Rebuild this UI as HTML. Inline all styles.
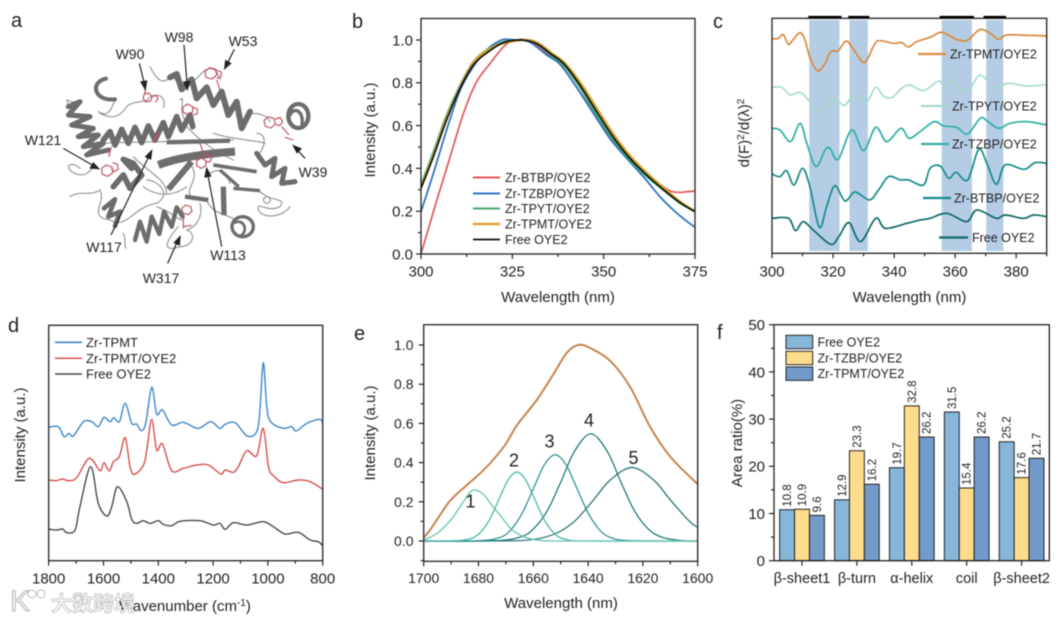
<!DOCTYPE html>
<html lang="en">
<head>
<meta charset="utf-8">
<title>Protein structure and spectroscopy figure</title>
<style>
html,body{margin:0;padding:0;background:#fff;width:1063px;height:621px;overflow:hidden}
svg{display:block;filter:blur(.4px)}
text{font-family:"Liberation Sans","Noto Sans CJK SC",sans-serif;fill:#222}
</style>
</head>
<body>
<svg id="fig" xmlns="http://www.w3.org/2000/svg" width="1063" height="621" viewBox="0 0 1063 621">
<rect width="1063" height="621" fill="#fff"/>
<g id="panel-a">
  <text x="11" y="27" font-size="20">a</text>
  <svg x="0" y="0" width="350" height="310" viewBox="0 0 1050 930">
    <g fill="none" stroke="#969696" stroke-width="3.5" stroke-linecap="round" stroke-linejoin="round">
      <path d="M345 300C330 340 320 350 295 335M300 340C340 360 360 350 380 320C400 300 440 310 445 295C480 270 500 300 490 322M450 200C470 240 490 260 515 225M515 225C540 260 560 270 600 225C625 195 650 200 660 240"/>
      <path d="M750 340C780 340 800 345 810 365M770 400C800 400 800 440 770 470M640 400C700 420 770 420 795 430M560 380C600 420 620 440 700 480M540 300C560 280 530 330 560 370"/>
      <path d="M240 505C210 480 195 500 215 515C240 530 260 530 280 500M210 590C240 570 270 590 300 570C320 610 260 650 330 660C380 690 400 620 470 610C520 580 470 540 440 540"/>
      <path d="M780 575C820 610 860 590 840 620C800 640 770 600 775 630C790 660 850 650 870 620M800 590a10 10 0 1 0 1 0M620 600C640 650 690 640 710 665M535 680C500 720 480 760 540 740C580 740 590 700 560 690M370 700C380 720 370 730 378 745M600 610C610 650 590 680 560 690"/>
      <path d="M630 520C660 500 680 520 690 550M470 620C520 640 520 650 545 660M560 480C620 540 540 560 580 600M400 470C450 520 500 540 500 580M300 430C400 425 560 425 700 420"/>
      <path d="M200 300l30 10-20 15zM430 560C470 590 520 590 560 560"/>
    </g>
    <g fill="none" stroke="#6c6c6c" stroke-width="15" stroke-linejoin="round" stroke-linecap="round">
      <path d="M318 236C270 245 280 305 345 298" stroke-width="12"/>
      <polyline points="205,320 240,305 205,345 270,350 215,375 280,385 235,410 295,405 250,440 310,430 260,465 325,450"/>
      <polyline points="310,420 330,395 345,435 365,388 385,430 405,382 425,428 445,378 465,420 490,368 505,410 530,350 545,390 570,345 578,380" stroke-width="17"/>
      <polyline points="510,232 530,222 545,268 575,238 590,295 620,262 640,315 665,275 685,345 710,305 725,385 750,335" stroke-width="18"/>
      <ellipse cx="895" cy="348" rx="30" ry="36" stroke-width="13"/>
      <path d="M870 345C880 320 915 330 905 380" stroke-width="10"/>
      <polyline points="770,460 795,495 825,475 815,530 855,505 845,550 885,545"/>
      <polyline points="340,560 370,525 390,565 425,525 400,490 370,478 395,505" stroke-width="17"/>
      <polyline points="312,625 345,598 325,650 360,635 345,678" stroke-width="14"/>
      <polyline points="405,720 420,665 440,725 455,650 478,702 492,635 515,680 530,622 548,650" stroke-width="13"/>
      <ellipse cx="728" cy="680" rx="32" ry="30" stroke-width="10"/>
      <path d="M705 668C730 655 745 690 725 705" stroke-width="8"/>
    </g>
    <g fill="none" stroke="#6e6e6e" stroke-width="13" stroke-linecap="butt">
      <path d="M500 427L690 422"/>
      <path d="M475 495C540 470 630 460 705 455" stroke-width="24"/>
      <path d="M505 568L575 485" stroke-width="18"/>
      <path d="M640 495L770 515" stroke-width="11"/>
      <path d="M660 510L716 560" stroke-width="10"/>
      <path d="M670 560L672 645" stroke-width="16"/>
      <path d="M555 590L625 600" stroke-width="13"/>
      <path d="M700 565L780 572" stroke-width="10"/>
    </g>
    <g fill="none" stroke="#c14f5c" stroke-width="3.5" stroke-linejoin="round">
      <path d="M615 215l14-12 18 5 3 17-14 12-18-5zM650 210l14 6-1 15-14 4M650 240l10 30"/>
      <path d="M433 282l13-3 10 10-4 14-14 3-9-10zM456 290l12-4 6 10-7 11M436 268l-2 12"/>
      <path d="M548 322l14-10 16 8 0 16-15 8-14-8zM578 322l14 5 0 14-12 4"/>
      <path d="M792 362l12-12 18 5 4 17-13 12-17-5zM826 358l14-6 8 13-9 12-12-3M845 380l22 25M880 420l-25-8"/>
      <path d="M305 505l14-10 17 6 2 17-14 11-17-6zM338 488l14 4 3 15-12 8-9-10M326 470l8-30"/>
      <path d="M590 482l14-8 14 8-1 15-14 8-13-8zM610 470l14-8 12 9-6 14-14 1M600 430l10 30"/>
      <path d="M545 625l12-10 15 5 4 14-12 10-15-5zM550 650l0 35M550 680l25-4"/>
      <path d="M460 428L480 395" stroke-width="5"/>
    </g>
    <g stroke="#222" stroke-width="3.6" fill="#222">
      <line x1="418" y1="190" x2="433" y2="250"/><path d="M436 268l-13-22 17-3z"/>
      <line x1="552" y1="135" x2="561" y2="250"/><path d="M562 268l-11-22 18-1z"/>
      <line x1="703" y1="148" x2="682" y2="190"/><path d="M674 206l3-24 15 8z"/>
      <line x1="915" y1="475" x2="892" y2="450"/><path d="M880 437l23 9-12 12z"/>
      <line x1="190" y1="445" x2="280" y2="497"/><path d="M296 506l-25-2 9-15z"/>
      <line x1="333" y1="705" x2="447" y2="468"/><path d="M455 452l-3 25-15-7z"/>
      <line x1="665" y1="740" x2="623" y2="522"/><path d="M620 505l12 23-17 3z"/>
      <line x1="503" y1="790" x2="532" y2="725"/><path d="M540 710l-2 25-15-7z"/>
    </g>
  </svg>
  <g font-size="14" text-anchor="middle">
    <text x="179" y="42">W98</text>
    <text x="243" y="46">W53</text>
    <text x="130" y="59">W90</text>
    <text x="43" y="145">W121</text>
    <text x="313" y="177">W39</text>
    <text x="104" y="252">W117</text>
    <text x="228" y="260">W113</text>
    <text x="161" y="283">W317</text>
  </g>
</g>
<g id="charts"></g>
<g id="watermark">
  <text x="10" y="611" font-size="30" style="fill:#f4f4f4;stroke:#aaa;stroke-width:.8">K</text>
  <circle cx="32" cy="594" r="4" fill="#fff" stroke="#bbb"/>
  <circle cx="41" cy="594" r="4" fill="#fff" stroke="#bbb"/>
  <text x="51" y="611" font-size="21" font-weight="700" style="fill:#f4f4f4;stroke:#aaa;stroke-width:.5">大数跨境</text>
</g>
</svg>
<script>
/* Panel b: normalised fluorescence */
const bXTicks = [300, 325, 350, 375];
const bXMinor = [312.5, 337.5, 362.5];
const bYTicks = [0, 0.2, 0.4, 0.6, 0.8, 1.0];
const bYMinor = [0.1, 0.3, 0.5, 0.7, 0.9];
const bBtbpX = [300,304.3,308,311.6,315.2,318.9,323,326.2,329.8,334.4,338,342.6,347.2,351.7,356.3,360.9,364.5,368.2,370.9,372.7,375];
const bBtbpY = [0,0.25,0.455,0.656,0.804,0.89,0.975,1,0.995,0.936,0.89,0.78,0.664,0.547,0.462,0.392,0.337,0.295,0.288,0.291,0.294];
const bTzbpX = [300,303.4,307,310.7,314.3,317.9,322.1,326.2,329.8,334.4,338,342.6,347.2,351.7,356.3,360.9,365.4,369.1,372.3,375];
const bTzbpY = [0.198,0.377,0.579,0.765,0.875,0.952,1,0.999,0.99,0.93,0.887,0.778,0.657,0.54,0.447,0.361,0.268,0.205,0.159,0.125];
const bTpytX = [300,303.4,307,310.7,314.3,317.9,322.5,328,331.6,335.3,339,343.5,348.1,352.7,357.2,361.8,366.3,370.9,375];
const bTpytY = [0.322,0.478,0.649,0.789,0.898,0.952,0.991,1,0.983,0.933,0.882,0.778,0.649,0.532,0.439,0.361,0.299,0.237,0.198];
const bTpmtX = [300,303.4,307,310.7,314.3,317.9,322.5,328.9,332.2,335.7,339.4,344,348.6,353.1,357.6,362.2,366.7,371.1,375];
const bTpmtY = [0.31,0.46,0.635,0.78,0.895,0.948,0.985,1,0.985,0.94,0.892,0.792,0.668,0.55,0.452,0.373,0.306,0.243,0.2];
const bFreeX = [300,303.4,307,310.7,314.3,317.9,322.5,327.6,331.6,335.3,339,343.5,348.1,352.7,357.2,361.8,366.3,370.9,375];
const bFreeY = [0.307,0.455,0.626,0.774,0.883,0.938,0.987,1,0.983,0.938,0.891,0.79,0.665,0.545,0.447,0.369,0.302,0.24,0.198];

/* Panel c: second-derivative spectra (offset, arbitrary units) */
const cXTicks = [300, 320, 340, 360, 380];
const cXMinor = [310, 330, 350, 370, 390];
const cBandStart = [312.2, 325.4, 355.6, 370.2];
const cBandEnd = [322.1, 331.4, 365.5, 375.8];
const cMarkStart = [311.9, 325, 354.9, 369.3];
const cMarkEnd = [322.8, 331.9, 366.2, 376.7];
const cTpmtX = [300,302.1,303.7,305.4,307,309.2,310.8,312.5,315,317.4,319.2,321.7,324.3,326.7,330.2,333.2,334.9,339.8,342.5,344.7,347.4,351.8,355.1,357.3,360.5,363.8,367.1,368.7,371.5,374.2,376.9,383.5,390];
const cTpmtV = [643,645,656,627,642,662,640,585,548,570,605,608,637,612,572,620,638,630,632,619,635,648,663,657,642,638,665,672,660,642,655,654,652];
const cTpytX = [300,303.2,305.9,309.2,311.9,314.9,317.4,319.2,321.7,323.9,326.7,331,334,336.5,339.3,342.5,345.2,349.6,354.6,356.2,358.4,361.1,364.1,367.7,370.4,373.5,377,383.5,390];
const cTpytV = [498,498,475,483,460,423,445,463,455,444,472,455,498,472,467,495,505,488,517,503,515,498,485,533,520,493,510,502,506];
const cTzbpX = [300,302.6,306.1,309.2,311.4,314.4,317.4,319,321.7,326.1,330,334,337.6,342.2,344.9,348.5,353.1,356.2,360.5,364.1,368.2,370.4,374.2,378,383.5,390];
const cTzbpV = [375,370,335,390,330,260,310,315,282,370,308,378,335,375,345,365,395,382,378,358,405,398,375,390,395,385];
const cBtbpX = [300,302.6,304.8,307.2,310,312.4,315.5,317.9,320.6,323.9,327.2,331.9,334.9,338.2,342,344.7,349.6,351.8,355.1,357.9,360.3,364.1,367.7,370.4,373.5,376.4,382.6,386.2,390];
const cBtbpV = [238,230,248,205,255,200,78,140,203,157,184,160,190,230,220,220,205,255,262,225,243,220,312,270,207,265,252,272,270];
const cFreeX = [300,305.4,307.7,310.2,313.5,319.2,321.9,325.2,329,334,337.1,344.2,348.6,351.8,357.3,363.8,367.1,373.5,376.4,382.4,385.7,390];
const cFreeV = [105,105,68,95,70,27,50,92,35,105,75,90,100,105,120,95,130,105,115,105,115,110];

/* Panel d: Raman-like spectra (offset, arbitrary units) */
const dXTicks = [1800, 1600, 1400, 1200, 1000, 800];
const dXMinor = [1700, 1500, 1300, 1100, 900];
const dTpmtX = [1800,1765,1744,1726,1710,1673,1643,1619,1598,1576,1562,1542,1521,1497,1479,1463,1446,1424,1406,1385,1351,1309,1254,1209,1175,1156,1120,1075,1041,1029,1017,1004,990,944,913,897,858,812,800];
const dTpmtV = [400,402,372,382,374,417,417,402,430,417,429,417,472,412,410,390,412,520,440,452,407,415,397,417,397,409,414,374,387,452,594,462,417,397,402,389,412,424,414];
const dHybridX = [1800,1771,1749,1728,1698,1652,1613,1598,1579,1564,1542,1521,1503,1487,1454,1442,1424,1406,1385,1351,1309,1260,1217,1172,1156,1126,1108,1077,1041,1017,998,980,944,889,846,800];
const dHybridV = [242,240,245,240,249,307,270,294,269,297,312,369,282,259,287,332,424,332,350,270,277,287,287,260,272,265,282,330,315,397,282,255,234,242,237,214];
const dFreeX = [1800,1771,1749,1734,1704,1686,1647,1619,1588,1570,1549,1515,1497,1479,1455,1430,1400,1382,1351,1321,1248,1199,1175,1156,1126,1077,1017,980,938,889,846,816,800];
const dFreeV = [95,92,95,84,92,162,282,172,134,162,222,177,124,112,120,112,120,109,105,118,120,107,112,94,114,107,117,102,80,85,62,57,45];

/* Panel e: peak fitting */
const eXTicks = [1700, 1680, 1660, 1640, 1620, 1600];
const eXMinor = [1690, 1670, 1650, 1630, 1610];
const eYTicks = [0, 0.2, 0.4, 0.6, 0.8, 1.0];
const eYMinor = [-0.1, 0.1, 0.3, 0.5, 0.7, 0.9];
const eTotalX = [1700,1697.7,1694,1690.4,1685.5,1680.6,1675.8,1670.3,1666,1658.7,1652.7,1647.8,1643.6,1639.3,1632,1624.7,1617.4,1610,1600];
const eTotalY = [0.017,0.056,0.133,0.205,0.27,0.33,0.396,0.49,0.59,0.72,0.85,0.96,1,0.985,0.92,0.787,0.583,0.43,0.29];
const ePeak1X = [1700,1695,1690,1686,1683,1681,1678,1675,1672,1668,1664,1660,1655,1645,1600];
const ePeak1Y = [0.005,0.04,0.11,0.19,0.25,0.26,0.235,0.18,0.13,0.06,0.025,0.008,0.001,0,0];
const ePeak2X = [1700,1690,1684,1680,1676,1672,1669,1666,1663,1660,1656,1652,1648,1640,1600];
const ePeak2Y = [0,0,0.008,0.034,0.108,0.23,0.316,0.352,0.316,0.23,0.108,0.034,0.008,0,0];
const ePeak3X = [1700,1680,1672,1668,1664,1660,1656,1652,1648,1644,1640,1636,1632,1625,1600];
const ePeak3Y = [0,0.001,0.019,0.06,0.143,0.266,0.388,0.44,0.388,0.266,0.143,0.06,0.019,0.002,0];
const ePeak4X = [1700,1675,1665,1660,1655,1650,1645,1639,1633,1628,1623,1618,1613,1605,1600];
const ePeak4Y = [0,0.001,0.019,0.061,0.152,0.3,0.457,0.547,0.457,0.3,0.152,0.061,0.019,0.001,0];
const ePeak5X = [1700,1670,1660,1652,1645,1638,1632,1624,1616,1610,1603,1600];
const ePeak5Y = [0,0.001,0.008,0.037,0.1,0.21,0.31,0.375,0.31,0.21,0.1,0.07];

/* Panel f: secondary structure */
const fCategories = ["β-sheet1", "β-turn", "α-helix", "coil", "β-sheet2"];
const fFree = [10.8, 12.9, 19.7, 31.5, 25.2];
const fTzbp = [10.9, 23.3, 32.8, 15.4, 17.6];
const fTpmt = [9.6, 16.2, 26.2, 26.2, 21.7];
const fYTicks = [0, 10, 20, 30, 40, 50];
const fYMinor = [5, 15, 25, 35, 45];

const NS = "http://www.w3.org/2000/svg";
const root = document.getElementById("charts");

function make(tag, parent, props) {
  const node = document.createElementNS(NS, tag);
  for (const k in props) node.setAttribute(k, props[k]);
  parent.appendChild(node);
  return node;
}
function scale(d0, d1, r0, r1) {
  return function (v) { return r0 + (v - d0) * (r1 - r0) / (d1 - d0); };
}
function smoothPath(xs, ys, sx, sy) {
  const p = xs.map(function (x, i) { return [sx(x), sy(ys[i])]; });
  let d = "M" + p[0][0].toFixed(2) + " " + p[0][1].toFixed(2);
  for (let i = 0; i < p.length - 1; i++) {
    const a = p[Math.max(i - 1, 0)], b = p[i], c = p[i + 1], e = p[Math.min(i + 2, p.length - 1)];
    const c1x = b[0] + (c[0] - a[0]) / 6, c1y = b[1] + (c[1] - a[1]) / 6;
    const c2x = c[0] - (e[0] - b[0]) / 6, c2y = c[1] - (e[1] - b[1]) / 6;
    d += "C" + c1x.toFixed(2) + " " + c1y.toFixed(2) + " " + c2x.toFixed(2) + " " + c2y.toFixed(2) + " " + c[0].toFixed(2) + " " + c[1].toFixed(2);
  }
  return d;
}
function series(parent, name, xs, ys, sx, sy, color, width) {
  const path = make("path", parent, { d: smoothPath(xs, ys, sx, sy), fill: "none", stroke: color, "stroke-width": width, "stroke-linejoin": "round" });
  
  
  return path;
}
function label(parent, name, str, x, y, size, anchor, rotate) {
  const t = make("text", parent, { x: x, y: y, "font-size": size, "text-anchor": anchor || "start" });
  if (rotate) t.setAttribute("transform", "rotate(-90 " + x + " " + y + ")");
  t.textContent = str;
  
  
  return t;
}
function tick(parent, name, x1, y1, x2, y2) {
  const l = make("line", parent, { x1: x1, y1: y1, x2: x2, y2: y2, stroke: "#222", "stroke-width": 1.2 });
  
  
}
function frame(parent, name, L, T, R, B) {
  const r = make("rect", parent, { x: L, y: T, width: R - L, height: B - T, fill: "none", stroke: "#222", "stroke-width": 1.3 });
  
  
}
function xAxis(parent, name, majors, minors, sx, B, fontSize, labelY, fmt) {
  majors.forEach(function (v) {
    tick(parent, name + "-x-tick", sx(v), B, sx(v), B + 5);
    label(parent, name + "-x-tick-label", fmt ? fmt(v) : String(v), sx(v), labelY, fontSize, "middle");
  });
  minors.forEach(function (v) { tick(parent, name + "-x-minor-tick", sx(v), B, sx(v), B + 3); });
}
function yAxis(parent, name, majors, minors, sy, L, fontSize, labelX, fmt) {
  majors.forEach(function (v) {
    tick(parent, name + "-y-tick", L, sy(v), L - 5, sy(v));
    label(parent, name + "-y-tick-label", fmt ? fmt(v) : String(v), labelX, sy(v) + fontSize * 0.36, fontSize, "end");
  });
  minors.forEach(function (v) { tick(parent, name + "-y-minor-tick", L, sy(v), L - 3, sy(v)); });
}
function legendLine(parent, name, x1, x2, y, color, width, str, textX, size) {
  const g = make("g", parent, {});
  
  
  const l = make("line", g, { x1: x1, x2: x2, y1: y, y2: y, stroke: color, "stroke-width": width });
  
  
  label(g, name + "-label", str, textX, y + size * 0.36, size, "start");
}
function panel(name) {
  const g = make("g", root, {});
  
  
  return g;
}
const f1 = function (v) { return v.toFixed(1); };

/* ---- b ---- */
(function () {
  const g = panel("emission-panel");
  const sx = scale(300, 375, 421, 695), sy = scale(0, 1, 254, 40);
  label(g, "panel-label-b", "b", 352, 28, 20);
  series(g, "line-zr-btbp", bBtbpX, bBtbpY, sx, sy, "#e2585a", 1.7);
  series(g, "line-zr-tzbp", bTzbpX, bTzbpY, sx, sy, "#2f77c4", 1.8);
  series(g, "line-zr-tpyt", bTpytX, bTpytY, sx, sy, "#3fa86b", 1.8);
  series(g, "line-zr-tpmt", bTpmtX, bTpmtY, sx, sy, "#dba32f", 2.2);
  series(g, "line-free-oye2", bFreeX, bFreeY, sx, sy, "#0a0a0a", 1.6);
  frame(g, "emission", 421, 18.5, 695, 254);
  xAxis(g, "emission", bXTicks, bXMinor, sx, 254, 15, 276.5);
  yAxis(g, "emission", bYTicks, bYMinor, sy, 421, 15, 413, f1);
  label(g, "emission-x-title", "Wavelength (nm)", 558, 302, 15, "middle");
  label(g, "emission-y-title", "Intensity (a.u.)", 375, 130, 15, "middle", true);
  legendLine(g, "legend-entry-btbp", 473, 500, 177.5, "#e2585a", 2, "Zr-BTBP/OYE2", 505, 12.5);
  legendLine(g, "legend-entry-tzbp", 473, 500, 193.5, "#2f77c4", 2, "Zr-TZBP/OYE2", 505, 12.5);
  legendLine(g, "legend-entry-tpyt", 473, 500, 208.5, "#3fa86b", 2, "Zr-TPYT/OYE2", 505, 12.5);
  legendLine(g, "legend-entry-tpmt", 473, 500, 224, "#dba32f", 2.4, "Zr-TPMT/OYE2", 505, 12.5);
  legendLine(g, "legend-entry-free", 473, 500, 239.5, "#111", 1.7, "Free OYE2", 505, 12.5);
})();

/* ---- c ---- */
(function () {
  const g = panel("derivative-panel");
  const sx = scale(300, 390, 772, 1046.7), sy = scale(0, 705, 253.3, 18.3);
  label(g, "panel-label-c", "c", 713, 28, 20);
  cBandStart.forEach(function (s, i) {
    const r = make("rect", g, { x: sx(s), y: 20, width: sx(cBandEnd[i]) - sx(s), height: 231, fill: "#b5cde4" });
    
    
  });
  series(g, "line-zr-tpmt", cTpmtX, cTpmtV, sx, sy, "#d98a3c", 1.7);
  series(g, "line-zr-tpyt", cTpytX, cTpytV, sx, sy, "#a3dbc9", 1.6);
  series(g, "line-zr-tzbp", cTzbpX, cTzbpV, sx, sy, "#2fb0a4", 1.7);
  series(g, "line-zr-btbp", cBtbpX, cBtbpV, sx, sy, "#168c8a", 1.7);
  series(g, "line-free-oye2", cFreeX, cFreeV, sx, sy, "#0e6a69", 1.7);
  frame(g, "derivative", 772, 18.3, 1046.7, 253.3);
  cMarkStart.forEach(function (s, i) {
    const l = make("line", g, { x1: sx(s), x2: sx(cMarkEnd[i]), y1: 17, y2: 17, stroke: "#000", "stroke-width": 2.2 });
    
    
  });
  xAxis(g, "derivative", cXTicks, cXMinor, sx, 253.3, 15, 276.5);
  label(g, "derivative-x-title", "Wavelength (nm)", 909.5, 302, 15, "middle");
  const yt = label(g, "derivative-y-title", "d(F)", 749, 133, 15, "middle", true);
  const sup1 = make("tspan", yt, { dy: -5, "font-size": 10 });
  sup1.textContent = "2";
  const mid = make("tspan", yt, { dy: 5 });
  mid.textContent = "/d(λ)";
  const sup2 = make("tspan", yt, { dy: -5, "font-size": 10 });
  sup2.textContent = "2";
  legendLine(g, "legend-entry-tpmt", 918, 946, 54, "#d98a3c", 2.2, "Zr-TPMT/OYE2", 950, 12.5);
  legendLine(g, "legend-entry-tpyt", 921, 949, 106, "#a3dbc9", 2.2, "Zr-TPYT/OYE2", 952, 12.5);
  legendLine(g, "legend-entry-tzbp", 921, 949, 144, "#2fb0a4", 2.2, "Zr-TZBP/OYE2", 952, 12.5);
  legendLine(g, "legend-entry-btbp", 923, 951, 198, "#168c8a", 2.2, "Zr-BTBP/OYE2", 954, 12.5);
  legendLine(g, "legend-entry-free", 939, 968, 237.5, "#0e6a69", 2.2, "Free OYE2", 972, 12.5);
})();

/* ---- d ---- */
(function () {
  const g = panel("raman-panel");
  const sx = scale(1800, 800, 48.7, 322.7), sy = scale(0, 706, 560.7, 325.3);
  label(g, "panel-label-d", "d", 8, 332, 20);
  series(g, "line-zr-tpmt", dTpmtX, dTpmtV, sx, sy, "#3f86c6", 1.4);
  series(g, "line-zr-tpmt-oye2", dHybridX, dHybridV, sx, sy, "#d4504f", 1.4);
  series(g, "line-free-oye2", dFreeX, dFreeV, sx, sy, "#4a4a4a", 1.4);
  frame(g, "raman", 48.7, 325.3, 322.7, 560.7);
  xAxis(g, "raman", dXTicks, dXMinor, sx, 560.7, 15, 583.5);
  const xt = label(g, "raman-x-title", "Wavenumber (cm", 185, 611, 15, "middle");
  const sup = make("tspan", xt, { dy: -5, "font-size": 10 });
  sup.textContent = "-1";
  const close = make("tspan", xt, { dy: 5 });
  close.textContent = ")";
  label(g, "raman-y-title", "Intensity (a.u.)", 25, 435, 15, "middle", true);
  legendLine(g, "legend-entry-zr-tpmt", 55, 82, 342.3, "#3f86c6", 1.7, "Zr-TPMT", 86, 13);
  legendLine(g, "legend-entry-zr-tpmt-oye2", 55, 82, 358.3, "#d4504f", 1.5, "Zr-TPMT/OYE2", 86, 13);
  legendLine(g, "legend-entry-free", 55, 82, 374, "#4a4a4a", 1.5, "Free OYE2", 86, 13);
})();

/* ---- e ---- */
(function () {
  const g = panel("peak-fit-panel");
  const sx = scale(1700, 1600, 423.7, 697.7), sy = scale(0, 1, 541, 345);
  label(g, "panel-label-e", "e", 354, 340, 20);
  series(g, "line-measured", eTotalX, eTotalY, sx, sy, "#e9c09a", 2.4);
  series(g, "line-fit-total", eTotalX, eTotalY, sx, sy, "#b5733a", 1.2);
  series(g, "peak-5", ePeak5X, ePeak5Y, sx, sy, "#1f6b6b", 1.2);
  series(g, "peak-4", ePeak4X, ePeak4Y, sx, sy, "#12706f", 1.2);
  series(g, "peak-3", ePeak3X, ePeak3Y, sx, sy, "#258d8e", 1.2);
  series(g, "peak-2", ePeak2X, ePeak2Y, sx, sy, "#3fb3a6", 1.2);
  series(g, "peak-1", ePeak1X, ePeak1Y, sx, sy, "#64c4b1", 1.3);
  frame(g, "peak-fit", 423.7, 324.7, 697.7, 561.3);
  xAxis(g, "peak-fit", eXTicks, eXMinor, sx, 561.3, 14, 583);
  yAxis(g, "peak-fit", eYTicks, eYMinor, sy, 423.7, 14, 413.5, f1);
  label(g, "peak-fit-x-title", "Wavelength (nm)", 561, 608, 15, "middle");
  label(g, "peak-fit-y-title", "Intensity (a.u.)", 375, 433, 15, "middle", true);
  label(g, "peak-label-1", "1", 470.5, 507.5, 18, "middle");
  label(g, "peak-label-2", "2", 514, 466.5, 18, "middle");
  label(g, "peak-label-3", "3", 549.5, 447.5, 18, "middle");
  label(g, "peak-label-4", "4", 589, 426.5, 18, "middle");
  label(g, "peak-label-5", "5", 633.5, 464, 18, "middle");
})();

/* ---- f ---- */
(function () {
  const g = panel("area-ratio-panel");
  const L = 774, R = 1049.3, T = 324.7, B = 560.7;
  const sy = scale(0, 50, B, T);
  const groupX = scale(0, 4, 802, 1021.6);
  const bw = 14.9;
  const colors = ["#86b7d9", "#fddc8c", "#729acb"];
  const names = ["free", "tzbp", "tpmt"];
  label(g, "panel-label-f", "f", 717, 339, 20);
  [fFree, fTzbp, fTpmt].forEach(function (vals, s) {
    vals.forEach(function (v, i) {
      const x = groupX(i) + (s - 1.5) * bw;
      const r = make("rect", g, { x: x, y: sy(v), width: bw, height: B - sy(v), fill: colors[s], stroke: "#222", "stroke-width": 1 });
      
      
      label(g, "bar-value-label", v.toFixed(1), x + bw / 2 + 4, sy(v) - 3, 11.5, "start", true);
    });
  });
  frame(g, "area-ratio", L, T, R, B);
  fCategories.forEach(function (c, i) {
    tick(g, "area-ratio-x-tick", groupX(i), B, groupX(i), B + 5);
    label(g, "category-label", c, groupX(i), 583, 14.5, "middle");
  });
  yAxis(g, "area-ratio", fYTicks, fYMinor, sy, L, 15, 765);
  label(g, "area-ratio-y-title", "Area ratio(%)", 742, 443, 15, "middle", true);
  const legendY = [342, 358, 373.7];
  const legendText = ["Free OYE2", "Zr-TZBP/OYE2", "Zr-TPMT/OYE2"];
  legendText.forEach(function (str, i) {
    const r = make("rect", g, { x: 786, y: legendY[i] - 6.7, width: 26.7, height: 13.4, fill: colors[i], stroke: "#222", "stroke-width": 1 });
    
    
    label(g, "legend-label-" + names[i], str, 817.5, legendY[i] + 4.5, 12.5, "start");
  });
})();
</script>
</body>
</html>
